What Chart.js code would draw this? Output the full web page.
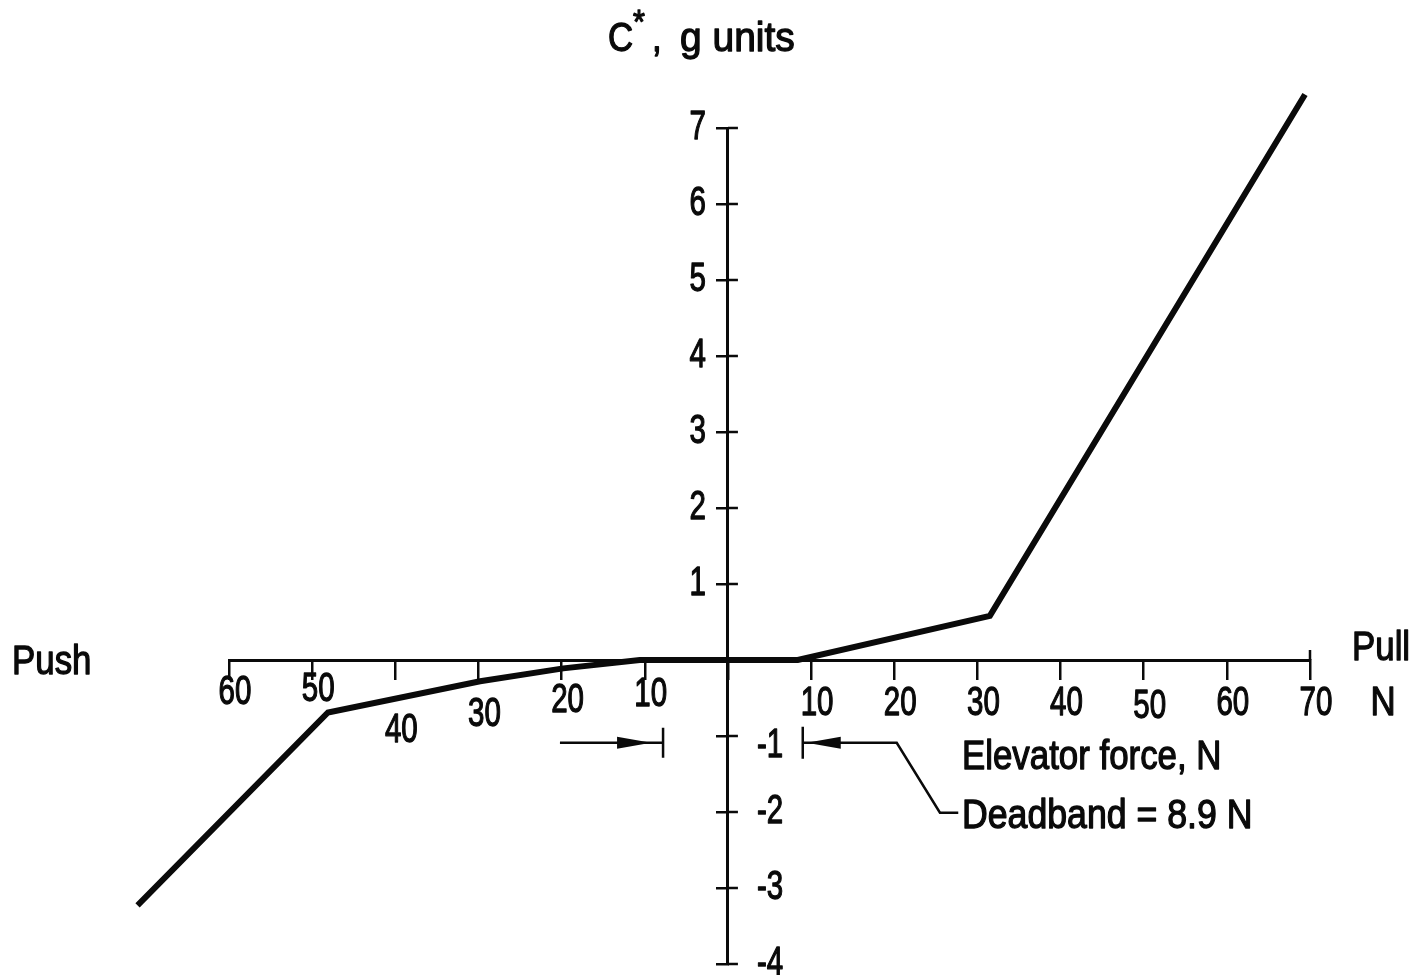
<!DOCTYPE html>
<html>
<head>
<meta charset="utf-8">
<title>C* versus elevator force</title>
<script src="https://cdn.jsdelivr.net/npm/chart.js@4.4.1/dist/chart.umd.min.js"></script>
<style>
  html, body { margin: 0; padding: 0; background: #fff; }
  #wrap { width: 1426px; height: 975px; }
</style>
</head>
<body>
<div id="wrap"><canvas id="cstarChart"></canvas></div>
<script>
"use strict";

// elevator force, N (push < 0, pull > 0)
const forceValues = [-71.0, -48.1, -29.8, -19.8, -10.6, 8.4, 31.5, 69.4];
// C*, g units
const cStarValues = [-3.23, -0.69, -0.28, -0.11, 0, 0, 0.58, 7.44];

// tick labels on both axes
const forceTicks = [-60, -50, -40, -30, -20, -10, 10, 20, 30, 40, 50, 60, 70];
const cStarTicks = [-4, -3, -2, -1, 1, 2, 3, 4, 5, 6, 7];

// deadband marker: bar ends (N) and the height of the arrows (g)
const deadbandEnds = [-7.8, 9.0];
const deadbandArrowY = -1.09;

const ink = "#0a0a0a";
const baseFont = '"Liberation Sans", Arial, sans-serif';

// lettering in the figure is narrow and a bit heavy: squeeze sideways, stroke it once
function narrowText(ctx, text, x, y, align, sx, size) {
  ctx.save();
  ctx.font = (size || 41) + "px " + baseFont;
  ctx.translate(x, y);
  ctx.scale(sx, 1);
  ctx.textAlign = align;
  ctx.textBaseline = "middle";
  ctx.lineWidth = 1.3;
  ctx.lineJoin = "round";
  ctx.fillText(text, 0, 0);
  ctx.strokeText(text, 0, 0);
  ctx.restore();
}

function arrowHead(ctx, tipX, tipY, dir) {
  // dir = 1 points right, -1 points left
  ctx.beginPath();
  ctx.moveTo(tipX, tipY);
  ctx.lineTo(tipX - dir * 34, tipY - 6);
  ctx.lineTo(tipX - dir * 34, tipY + 6);
  ctx.closePath();
  ctx.fill();
}

// how far below the axis each force label sits (left labels are staggered)
const labelDrop = { "-60": 33, "-50": 30, "-40": 71, "-30": 55, "-20": 41, "-10": 35, "50": 47 };

const axisExtras = {
  id: "axisExtras",
  afterDraw(chart) {
    const ctx = chart.ctx;
    const x = chart.scales.x;
    const y = chart.scales.y;
    const x0 = x.getPixelForValue(0);
    const y0 = y.getPixelForValue(0);

    ctx.save();
    ctx.strokeStyle = ink;
    ctx.fillStyle = ink;
    ctx.lineWidth = 2.5;

    // y ticks cross the axis, chart.js only draws the left half
    ctx.beginPath();
    cStarTicks.forEach(function (v) {
      const py = y.getPixelForValue(v);
      ctx.moveTo(x0, py);
      ctx.lineTo(x0 + 10, py);
    });
    // 70 N end of the force axis is a T
    const xEnd = x.getPixelForValue(70);
    ctx.moveTo(xEnd, y0);
    ctx.lineTo(xEnd, y0 - 10);
    ctx.stroke();

    // force tick labels
    forceTicks.forEach(function (v) {
      const drop = labelDrop[String(v)] || 44;
      narrowText(ctx, String(Math.abs(v)), x.getPixelForValue(v) + 6, y0 + drop, "center", 0.72);
    });
    narrowText(ctx, "N", x.getPixelForValue(70) + 73, y0 + 44, "center", 0.85);

    // C* tick labels: positive on the left, negative on the right
    cStarTicks.forEach(function (v) {
      const py = y.getPixelForValue(v);
      if (v > 0) {
        narrowText(ctx, String(v), x0 - 22, py, "right", 0.72);
      } else {
        narrowText(ctx, String(v), x0 + 29, py + (v === -1 ? 10 : 0), "left", 0.72);
      }
    });

    // axis names
    narrowText(ctx, "Push", 12, y0 + 3, "left", 0.85);
    narrowText(ctx, "Pull", 1352, y0 - 11, "left", 0.85);
    narrowText(ctx, "C", 608, 40, "left", 0.85);
    narrowText(ctx, "*", 633, 24, "left", 0.9, 34);
    narrowText(ctx, ",", 652, 40, "left", 0.85);
    narrowText(ctx, "g units", 680, 40, "left", 0.95);
    narrowText(ctx, "Elevator force, N", 962, 758, "left", 0.85);
    narrowText(ctx, "Deadband = 8.9 N", 962, 817, "left", 0.87);

    // deadband arrows
    ctx.lineWidth = 2.5;
    const ay = y.getPixelForValue(deadbandArrowY);
    const leftBar = x.getPixelForValue(deadbandEnds[0]);
    const rightBar = x.getPixelForValue(deadbandEnds[1]);
    ctx.beginPath();
    ctx.moveTo(x.getPixelForValue(-20.2), ay);
    ctx.lineTo(leftBar, ay);
    ctx.moveTo(leftBar, ay - 15);
    ctx.lineTo(leftBar, ay + 15);
    ctx.moveTo(rightBar, ay - 16);
    ctx.lineTo(rightBar, ay + 16);
    ctx.moveTo(rightBar, ay);
    const corner = x.getPixelForValue(20.3);
    const leaderY = y.getPixelForValue(-2.01);
    ctx.lineTo(corner, ay);
    ctx.lineTo(x.getPixelForValue(25.5), leaderY);
    ctx.lineTo(x.getPixelForValue(27.7), leaderY);
    ctx.stroke();
    arrowHead(ctx, leftBar - 12, ay, 1);
    arrowHead(ctx, rightBar + 4, ay, -1);

    ctx.restore();
  }
};

const ctx = document.getElementById("cstarChart").getContext("2d");
new Chart(ctx, {
  type: "line",
  data: {
    datasets: [{
      label: "C*",
      data: forceValues.map(function (f, i) { return { x: f, y: cStarValues[i] }; }),
      borderColor: ink,
      borderWidth: 6,
      borderJoinStyle: "miter",
      pointRadius: 0,
      tension: 0,
      clip: false
    }]
  },
  options: {
    responsive: true,
    maintainAspectRatio: false,
    animation: false,
    layout: {
      padding: { left: 229, right: 116, top: 128, bottom: 11 }
    },
    plugins: {
      legend: { display: false },
      tooltip: { enabled: false }
    },
    scales: {
      x: {
        type: "linear",
        position: { y: 0 },
        min: -60,
        max: 70,
        border: { color: ink, width: 3 },
        grid: {
          drawOnChartArea: false,
          drawTicks: true,
          tickLength: 18,
          color: ink,
          lineWidth: 2.5
        },
        ticks: { display: false, stepSize: 10, autoSkip: false }
      },
      y: {
        type: "linear",
        position: { x: 0 },
        min: -4,
        max: 7,
        border: { color: ink, width: 3 },
        grid: {
          drawOnChartArea: false,
          drawTicks: true,
          tickLength: 10,
          color: ink,
          lineWidth: 2.5
        },
        ticks: { display: false, stepSize: 1, autoSkip: false }
      }
    }
  },
  plugins: [axisExtras]
});
</script>
</body>
</html>
